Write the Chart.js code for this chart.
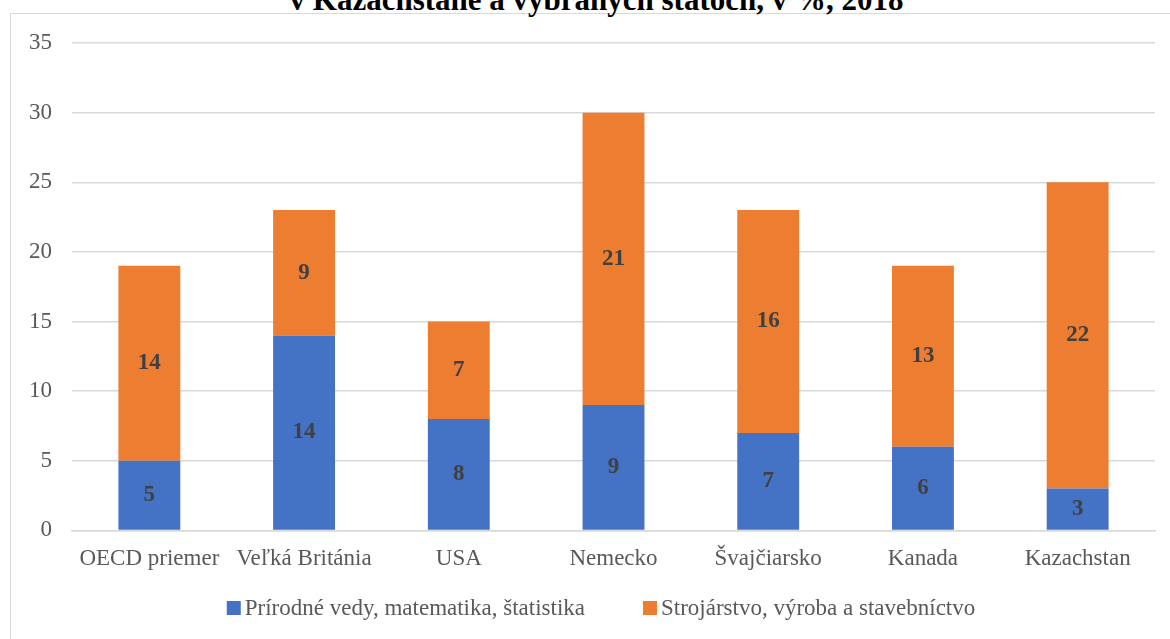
<!DOCTYPE html>
<html lang="sk">
<head>
<meta charset="utf-8">
<title>Absolventi</title>
<script src="https://cdn.jsdelivr.net/npm/chart.js@4/dist/chart.umd.min.js"></script>
<style>
  html, body { margin: 0; padding: 0; background: #fff; overflow: hidden; }
  body { width: 1170px; height: 639px; position: relative; }
  #frame {
    position: absolute; left: 10px; top: 13px;
    width: 1182px; height: 700px;
    border: 1px solid #d9d9d9; box-sizing: border-box;
  }
  #nadpis {
    position: absolute; left: 0; width: 1193px; top: -16px;
    text-align: center; font: bold 31px/1 "Liberation Serif", "Times New Roman", serif;
    color: #000; white-space: nowrap;
  }
  #graf { position: absolute; left: 0; top: 0; }
</style>
</head>
<body>
<div id="frame"></div>
<div id="nadpis">v Kazachstane a vybraných štátoch, v %, 2018</div>
<canvas id="graf" width="1170" height="639"></canvas>
<script>
const krajiny = ["OECD priemer", "Veľká Británia", "USA", "Nemecko", "Švajčiarsko", "Kanada", "Kazachstan"];
const prirodneVedy = [5, 14, 8, 9, 7, 6, 3];
const strojarstvo = [14, 9, 7, 21, 16, 13, 22];
const nazvySerii = ["Prírodné vedy, matematika, štatistika", "Strojárstvo, výroba a stavebníctvo"];
const farby = ["#4472c4", "#ed7d31"];

const pismo = '"Liberation Serif", "Times New Roman", serif';

// popisky hodnot v strede kazdeho useku
const popisky = {
  id: "popisky",
  afterDatasetsDraw(chart) {
    const ctx = chart.ctx;
    ctx.save();
    ctx.font = "bold 23px " + pismo;
    ctx.fillStyle = "#404040";
    ctx.textAlign = "center";
    ctx.textBaseline = "middle";
    chart.data.datasets.forEach((ds, i) => {
      chart.getDatasetMeta(i).data.forEach((bar, j) => {
        ctx.fillText(ds.data[j], bar.x, (bar.y + bar.base) / 2);
      });
    });
    ctx.restore();
  }
};

// legenda kreslena rucne, aby sedeli medzery
const legenda = {
  id: "legenda",
  afterDraw(chart) {
    const ctx = chart.ctx;
    const box = 14, medzera = 4, odstup = 58, y = 608, stred = 601;
    ctx.save();
    ctx.font = "23px " + pismo;
    ctx.textBaseline = "middle";
    const sirky = chart.data.datasets.map(ds => ctx.measureText(ds.label).width);
    let spolu = 0;
    sirky.forEach((w, i) => { spolu += box + medzera + w + (i > 0 ? odstup : 0); });
    let x = stred - spolu / 2;
    chart.data.datasets.forEach((ds, i) => {
      ctx.fillStyle = ds.backgroundColor;
      ctx.fillRect(x, y - box / 2, box, box);
      ctx.fillStyle = "#595959";
      ctx.fillText(ds.label, x + box + medzera, y + 1);
      x += box + medzera + sirky[i] + odstup;
    });
    ctx.restore();
  }
};

new Chart(document.getElementById("graf"), {
  type: "bar",
  data: {
    labels: krajiny,
    datasets: [
      { label: nazvySerii[0], data: prirodneVedy, backgroundColor: farby[0] },
      { label: nazvySerii[1], data: strojarstvo, backgroundColor: farby[1] }
    ]
  },
  options: {
    responsive: false,
    animation: false,
    devicePixelRatio: 1,
    layout: { padding: { top: 43, right: 15, left: 0, bottom: 51 } },
    datasets: { bar: { barPercentage: 0.4, categoryPercentage: 1 } },
    plugins: {
      legend: { display: false },
      title: { display: false },
      tooltip: { enabled: false }
    },
    scales: {
      x: {
        stacked: true,
        grid: { display: false, drawTicks: false },
        border: { display: true, color: "#d9d9d9", width: 1.5 },
        ticks: { padding: 15, color: "#595959", font: { family: pismo, size: 23 }, maxRotation: 0 }
      },
      y: {
        stacked: true,
        min: 0,
        max: 35,
        afterFit(scale) { scale.width = 72; },
        grid: { color: "#d9d9d9", lineWidth: 1.5, drawTicks: false },
        border: { display: false },
        ticks: { stepSize: 5, padding: 20, color: "#595959", font: { family: pismo, size: 23 } }
      }
    }
  },
  plugins: [popisky, legenda]
});
</script>
</body>
</html>
